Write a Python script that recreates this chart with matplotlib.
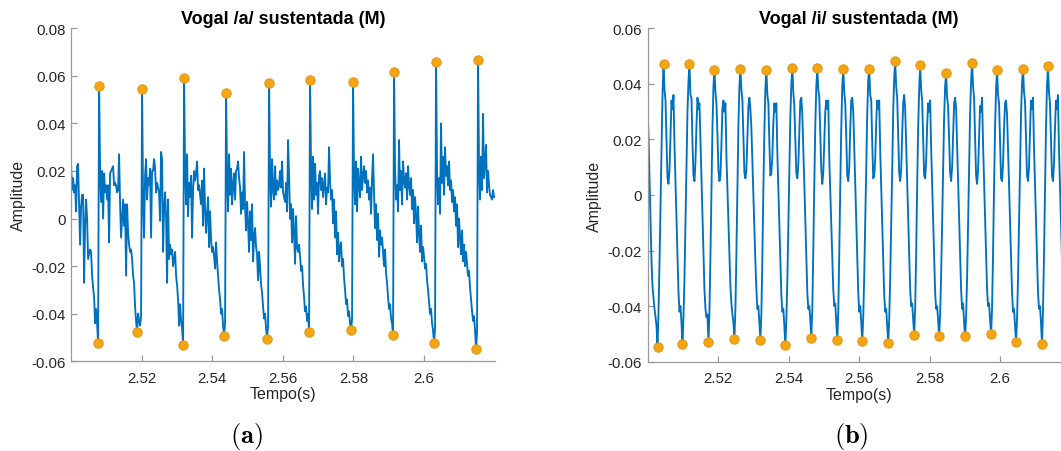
import numpy as np
import matplotlib
matplotlib.use("Agg")
import matplotlib.pyplot as plt

plt.rcParams['font.family'] = ['Liberation Sans', 'DejaVu Sans']
plt.rcParams['axes.unicode_minus'] = False
plt.rcParams['mathtext.fontset'] = 'cm'

# ---------------- data ----------------
t_start = 2.5            # s
fs_plot = 3530.0         # samples per second of the traced waveform

# Panel (a): vowel /a/, amplitude in units of 1e-3
a_signal = (
    [22, 12, 17, 11, 14, 3, 22, 23, 5, -11, 5, 10, 10, -27, -3, 8, 0, -17, -15, -13,
     -14, -24, -29, -33, -44, -38, -44, -52.3, 55.9]
    + [21, 7, 20, 0, 19, 11, 14, 8, 14, -10, 19, 20, 21, 22, 14, 15, 14, 11, 12, 27,
       6, -8, 0, 8, -3, 6, -24, 6, -6, -11, -14, -13, -17, -24, -27, -37, -43, -47.8,
       -40, -43, -45, -41, 54.5]
    + [8, -8, 18, 25, 8, 17, 14, 21, -8, 20, 20, 25, 21, 11, 15, 13, 11, -1, 28, 25,
       -14, 4, 11, 1, -27, 8, -17, -11, -15, -13, -20, -17, -14, -24, -28, -34, -45,
       -36, -43, -46, -53.0, 59.2]
    + [22, 6, 27, 1, 15, 9, 18, -8, 12, 20, 16, 19, 24, 12, 14, 10, 6, 16, -3, 21,
       4, -6, 2, 9, -12, 3, -9, -14, -12, -16, -21, -10, -18, -24, -30, -34, -40, -38,
       -45, -49.2, -44, 53.0]
    + [18, 3, 27, 10, 21, 6, 14, 19, 8, 20, 21, 24, 17, 13, 2, 11, 4, 28, 5, -5,
       7, -2, -14, 3, -9, 6, -18, -8, -4, -12, -15, -26, -14, -20, -28, -31, -37, -42,
       -40, -46, -50.5, -45, 56.8]
    + [20, 5, 25, 12, 8, 22, 10, 16, 12, 14, 20, 13, 24, 11, 9, 7, 15, 3, 33, 18,
       0, 6, -10, 4, -6, -19, 1, -12, -14, -11, -16, -22, -20, -28, -33, -39, -37, -43,
       -40, -47.8, 58.2]
    + [22, 4, 26, 8, 23, 10, 15, 2, 18, 20, 12, 17, 9, 14, 19, 6, 13, 11, 30, 16,
       8, 12, -2, 8, -8, 3, -15, -6, -18, -12, -10, -20, -17, -25, -30, -36, -34, -41,
       -39, -44, -47.0, -42, 57.6]
    + [19, 6, 24, 3, 21, 14, 9, 26, 12, 18, 22, 15, 20, 11, 16, 8, 13, 2, 17, 27,
       10, -4, 6, -9, 2, -16, -5, -11, -8, -14, -20, -13, -23, -27, -33, -38, -36, -42,
       -44, -48.9, 61.7]
    + [21, 8, 14, 3, 33, 12, 20, 6, 24, 16, 13, 19, 8, 22, 14, 10, 17, 4, 12, -2,
       9, 2, -10, 5, -6, -14, -3, -18, -12, -16, -21, -19, -26, -30, -35, -40, -38, -44,
       -47, -52.3, -46, 66.0]
    + [20, 6, 17, 2, 40, 15, 26, 10, 30, 18, 22, 14, 24, 12, 16, 7, 12, 3, 9, -3,
       6, -12, 0, -8, -15, -5, -18, -11, -20, -14, -19, -24, -22, -29, -34, -39, -43, -41,
       -47, -54.8, -48, 66.6]
    + [22, 8, 26, 12, 44, 17, 24, 31, 11, 20, 14, 10, 9, 8, 12, 9]
)
a_peak_idx = [28, 71, 113, 155, 198, 239, 282, 323, 365, 407]
a_trough_idx = [27, 66, 112, 153, 196, 238, 280, 322, 363, 405]

# Panel (b): vowel /i/, amplitude in units of 1e-3
b_signal = (
    [32, 21, 6, -10, -24, -33, -37, -41, -44, -47, -54.6, -42, -24, -3, 16, 36, 47.3]
    + [38, 34, 20, 6, 4, 9, 22, 34, 31, 36, 18, 5, -8, -22, -35, -42, -40, -46,
       -53.5, -44, -30, -10, 10, 30, 41, 47.0]
    + [36, 35, 19, 7, 5, 12, 25, 35, 31, 33, 20, 6, -7, -21, -34, -41, -44, -43,
       -52.8, -42, -22, 2, 24, 39, 45.0]
    + [37, 33, 22, 9, 5, 7, 18, 31, 34, 30, 33, 14, 2, -10, -22, -33, -39, -43, -46,
       -51.9, -41, -21, 3, 25, 39, 45.2]
    + [38, 34, 21, 8, 6, 9, 20, 32, 35, 31, 24, 12, 0, -12, -24, -34, -41, -40, -46,
       -52.1, -43, -22, 2, 23, 38, 44.9]
    + [36, 33, 19, 7, 8, 14, 26, 33, 30, 33, 15, 2, -11, -25, -36, -42, -41, -47,
       -54.0, -45, -31, -12, 8, 28, 40, 45.6]
    + [37, 32, 20, 8, 6, 11, 23, 34, 35, 29, 17, 4, -9, -23, -35, -41, -40, -45,
       -51.4, -41, -20, 4, 25, 39, 45.6]
    + [38, 35, 22, 9, 4, 8, 19, 30, 34, 31, 34, 13, 1, -11, -23, -34, -40, -39, -46,
       -52.3, -42, -21, 3, 24, 39, 45.5]
    + [37, 33, 21, 7, 5, 10, 24, 34, 35, 30, 17, 4, -9, -23, -35, -42, -40, -46,
       -52.7, -44, -29, -10, 10, 29, 41, 45.4]
    + [36, 34, 19, 6, 7, 13, 26, 34, 31, 34, 16, 3, -10, -24, -36, -42, -41, -47,
       -53.2, -45, -30, -11, 9, 30, 42, 48.1]
    + [39, 35, 21, 8, 5, 9, 22, 33, 36, 31, 18, 5, -8, -22, -34, -40, -39, -45,
       -50.4, -41, -21, 3, 24, 38, 46.7]
    + [38, 34, 20, 7, 6, 12, 25, 33, 30, 34, 17, 4, -9, -23, -35, -41, -40, -45,
       -50.8, -43, -29, -10, 10, 28, 39, 43.9]
    + [35, 32, 20, 8, 5, 10, 22, 33, 35, 31, 18, 5, -8, -22, -34, -41, -39, -46,
       -50.9, -44, -30, -11, 9, 29, 41, 47.5]
    + [39, 35, 21, 7, 4, 9, 21, 32, 30, 35, 18, 5, -8, -22, -34, -40, -39, -45,
       -50.1, -41, -21, 3, 24, 38, 44.9]
    + [36, 33, 19, 6, 5, 11, 24, 33, 34, 29, 17, 4, -9, -23, -35, -42, -41, -47,
       -52.9, -45, -30, -11, 9, 29, 40, 45.4]
    + [37, 34, 20, 7, 5, 10, 23, 34, 31, 35, 17, 4, -9, -23, -35, -41, -40, -46,
       -53.5, -42, -22, 2, 24, 39, 46.5]
    + [37, 33, 20, 7, 5, 11, 24, 34, 31, 36, 17, 4, -9, -23, -34]
)
b_peak_idx = [16, 42, 67, 93, 119, 145, 170, 196, 222, 248, 273, 299, 325, 350, 376, 401]
b_trough_idx = [10, 35, 61, 87, 113, 138, 164, 190, 215, 241, 267, 292, 318, 344, 369, 395]

titles = ["Vogal /a/ sustentada (M)", "Vogal /i/ sustentada (M)"]
captions = ["(a)", "(b)"]
x_label = "Tempo(s)"
y_label = "Amplitude"
x_ticks = [2.52, 2.54, 2.56, 2.58, 2.60]
x_ticklabels = ["2.52", "2.54", "2.56", "2.58", "2.6"]
a_y_ticks = [-0.06, -0.04, -0.02, 0, 0.02, 0.04, 0.06, 0.08]
a_y_ticklabels = ["-0.06", "-0.04", "-0.02", "0", "0.02", "0.04", "0.06", "0.08"]
b_y_ticks = [-0.06, -0.04, -0.02, 0, 0.02, 0.04, 0.06]
b_y_ticklabels = ["-0.06", "-0.04", "-0.02", "0", "0.02", "0.04", "0.06"]

# ---------------- plot ----------------
LINE = '#0072BD'
MFACE = '#F4A512'
MEDGE = '#E0900A'
AX_COL = '#9a9a9a'
TXT = '#262626'

fig = plt.figure(figsize=(10.61, 4.52), dpi=100)
ax_a = fig.add_axes([0.0670, 0.1985, 0.3992, 0.7367])
ax_b = fig.add_axes([0.6103, 0.1976, 0.3987, 0.7376])


def draw(ax, sig, pk, tr, title, yticks, yticklabels, ylim):
    y = np.asarray(sig, dtype=float) * 1e-3
    t = t_start + np.arange(len(y)) / fs_plot
    ax.plot(t, y, color=LINE, lw=1.35, zorder=2)
    ax.plot(t[pk], y[pk], 'o', ms=6.8, mfc=MFACE, mec=MEDGE, mew=0.6, zorder=3)
    ax.plot(t[tr], y[tr], 'o', ms=6.8, mfc=MFACE, mec=MEDGE, mew=0.6, zorder=3)
    ax.set_xlim(2.5, 2.62)
    ax.set_ylim(*ylim)
    ax.set_xticks(x_ticks)
    ax.set_xticklabels(x_ticklabels)
    ax.set_yticks(yticks)
    ax.set_yticklabels(yticklabels)
    for s in ['top', 'right']:
        ax.spines[s].set_visible(False)
    for s in ['left', 'bottom']:
        ax.spines[s].set_color(AX_COL)
        ax.spines[s].set_linewidth(0.9)
    ax.tick_params(direction='in', length=4, width=0.9, color=AX_COL,
                   labelcolor=TXT, labelsize=10.8)
    ax.tick_params(axis='x', pad=7)
    ax.tick_params(axis='y', pad=4)
    ax.set_title(title, fontsize=13, fontweight='bold', color='black', pad=4)
    ax.set_xlabel(x_label, fontsize=11.5, color=TXT, labelpad=1)
    ax.set_ylabel(y_label, fontsize=11.5, color=TXT, labelpad=4)
    ax.set_facecolor('white')


draw(ax_a, a_signal, a_peak_idx, a_trough_idx, titles[0], a_y_ticks, a_y_ticklabels, (-0.06, 0.08))
draw(ax_b, b_signal, b_peak_idx, b_trough_idx, titles[1], b_y_ticks, b_y_ticklabels, (-0.06, 0.06))

fig.text(246 / 1061, 1 - 437 / 452, r'$\mathbf{' + captions[0] + '}$', fontsize=19,
         ha='center', va='center', color='black')
fig.text(851 / 1061, 1 - 437 / 452, r'$\mathbf{' + captions[1] + '}$', fontsize=19,
         ha='center', va='center', color='black')

fig.savefig('out.png', dpi=100, facecolor='white')
